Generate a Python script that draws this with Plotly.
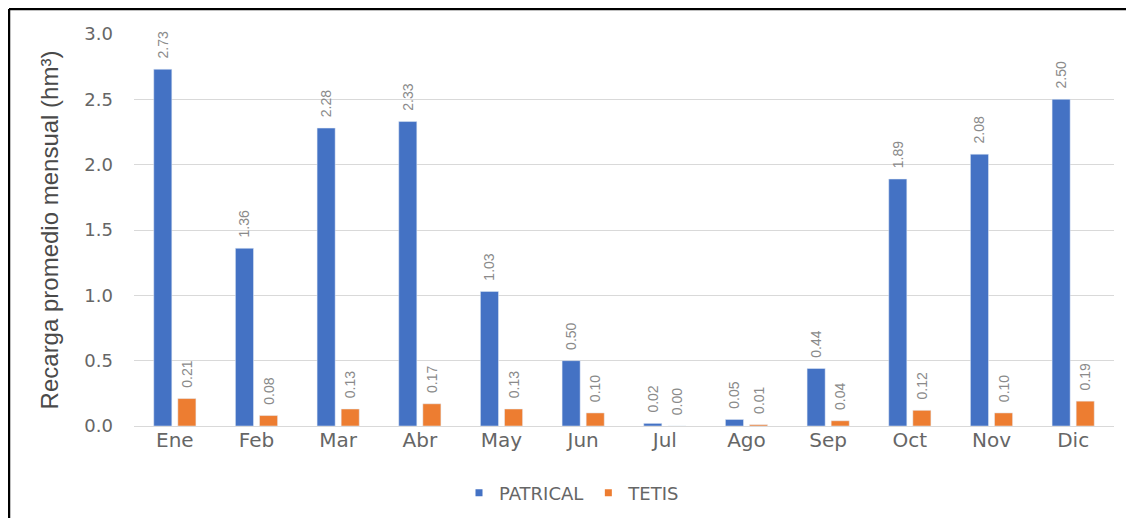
import plotly.graph_objects as go

months = ["Ene", "Feb", "Mar", "Abr", "May", "Jun", "Jul", "Ago", "Sep", "Oct", "Nov", "Dic"]
patrical = [2.73, 1.36, 2.28, 2.33, 1.03, 0.50, 0.02, 0.05, 0.44, 1.89, 2.08, 2.50]
tetis = [0.21, 0.08, 0.13, 0.17, 0.13, 0.10, 0.00, 0.01, 0.04, 0.12, 0.10, 0.19]

BLUE = "#4472C4"
ORANGE = "#ED7D31"

# page body has an 8px margin: work in screen pixels and convert
OFF = 8
W, H = 1134, 518
ml, mr, mt, mb = 134 - OFF, 1134 - 1114 + OFF, 34 - OFF, 518 - 426 + OFF
pw, ph = W - ml - mr, H - mt - mb


def sx(px):  # screen x -> paper
    return (px - OFF - ml) / pw


def sy(py):  # screen y -> paper
    return (H - mb - (py - OFF)) / ph


FONT = "DejaVu Sans, Arial, sans-serif"
label_font = dict(family="Liberation Sans, Arial, sans-serif", size=14, color="#8a8a8a")
pad = "\u00a0\u00a0"

fig = go.Figure()
fig.add_trace(go.Bar(
    x=months, y=patrical, name="PATRICAL", marker_color=BLUE, showlegend=False,
    text=[pad + f"{v:.2f}" for v in patrical], textposition="outside", textangle=-90,
    textfont=label_font, cliponaxis=False, constraintext="none",
))
fig.add_trace(go.Bar(
    x=months, y=tetis, name="TETIS", marker_color=ORANGE, showlegend=False,
    text=[pad + f"{v:.2f}" for v in tetis], textposition="outside", textangle=-90,
    textfont=label_font, cliponaxis=False, constraintext="none",
))
# legend entries with small square symbols
fig.add_trace(go.Scatter(x=[None], y=[None], mode="markers", name="PATRICAL",
                         marker=dict(symbol="square", size=7, color=BLUE)))
fig.add_trace(go.Scatter(x=[None], y=[None], mode="markers", name="TETIS",
                         marker=dict(symbol="square", size=7, color=ORANGE)))

fig.update_layout(
    width=W, height=H,
    margin=dict(l=ml, r=mr, t=mt, b=mb),
    paper_bgcolor="white", plot_bgcolor="white",
    barmode="group", bargap=0.41, bargroupgap=0.25,
    font=dict(family=FONT, color="#666666"),
    legend=dict(orientation="h", x=sx(572), xanchor="center",
                y=sy(493), yanchor="middle",
                font=dict(size=18, color="#666666"), itemwidth=30),
    showlegend=True,
)
fig.update_xaxes(showgrid=False, showline=False, ticks="",
                 tickfont=dict(size=20, color="#666666"))
fig.update_yaxes(range=[0, 3.0], dtick=0.5, tickformat=".1f",
                 showgrid=True, gridcolor="#D9D9D9", gridwidth=1,
                 zeroline=True, zerolinecolor="#D9D9D9", zerolinewidth=1,
                 ticklabelstandoff=20,
                 tickfont=dict(size=18, color="#666666"),
                 title=dict(text="Recarga promedio mensual (hm³)",
                            font=dict(family="Liberation Sans, Arial, sans-serif",
                                      size=24, color="#4a4a4a"),
                            standoff=18))

# frame lines (top and left) of the original figure border
fig.add_shape(type="line", xref="paper", yref="paper",
              x0=sx(OFF + 1), x1=sx(W + OFF),
              y0=sy(OFF + 1), y1=sy(OFF + 1),
              line=dict(color="black", width=2.5))
fig.add_shape(type="line", xref="paper", yref="paper",
              x0=sx(OFF + 1), x1=sx(OFF + 1),
              y0=sy(OFF + 1), y1=sy(H + OFF),
              line=dict(color="black", width=2.5))

fig.write_html("out.html")
